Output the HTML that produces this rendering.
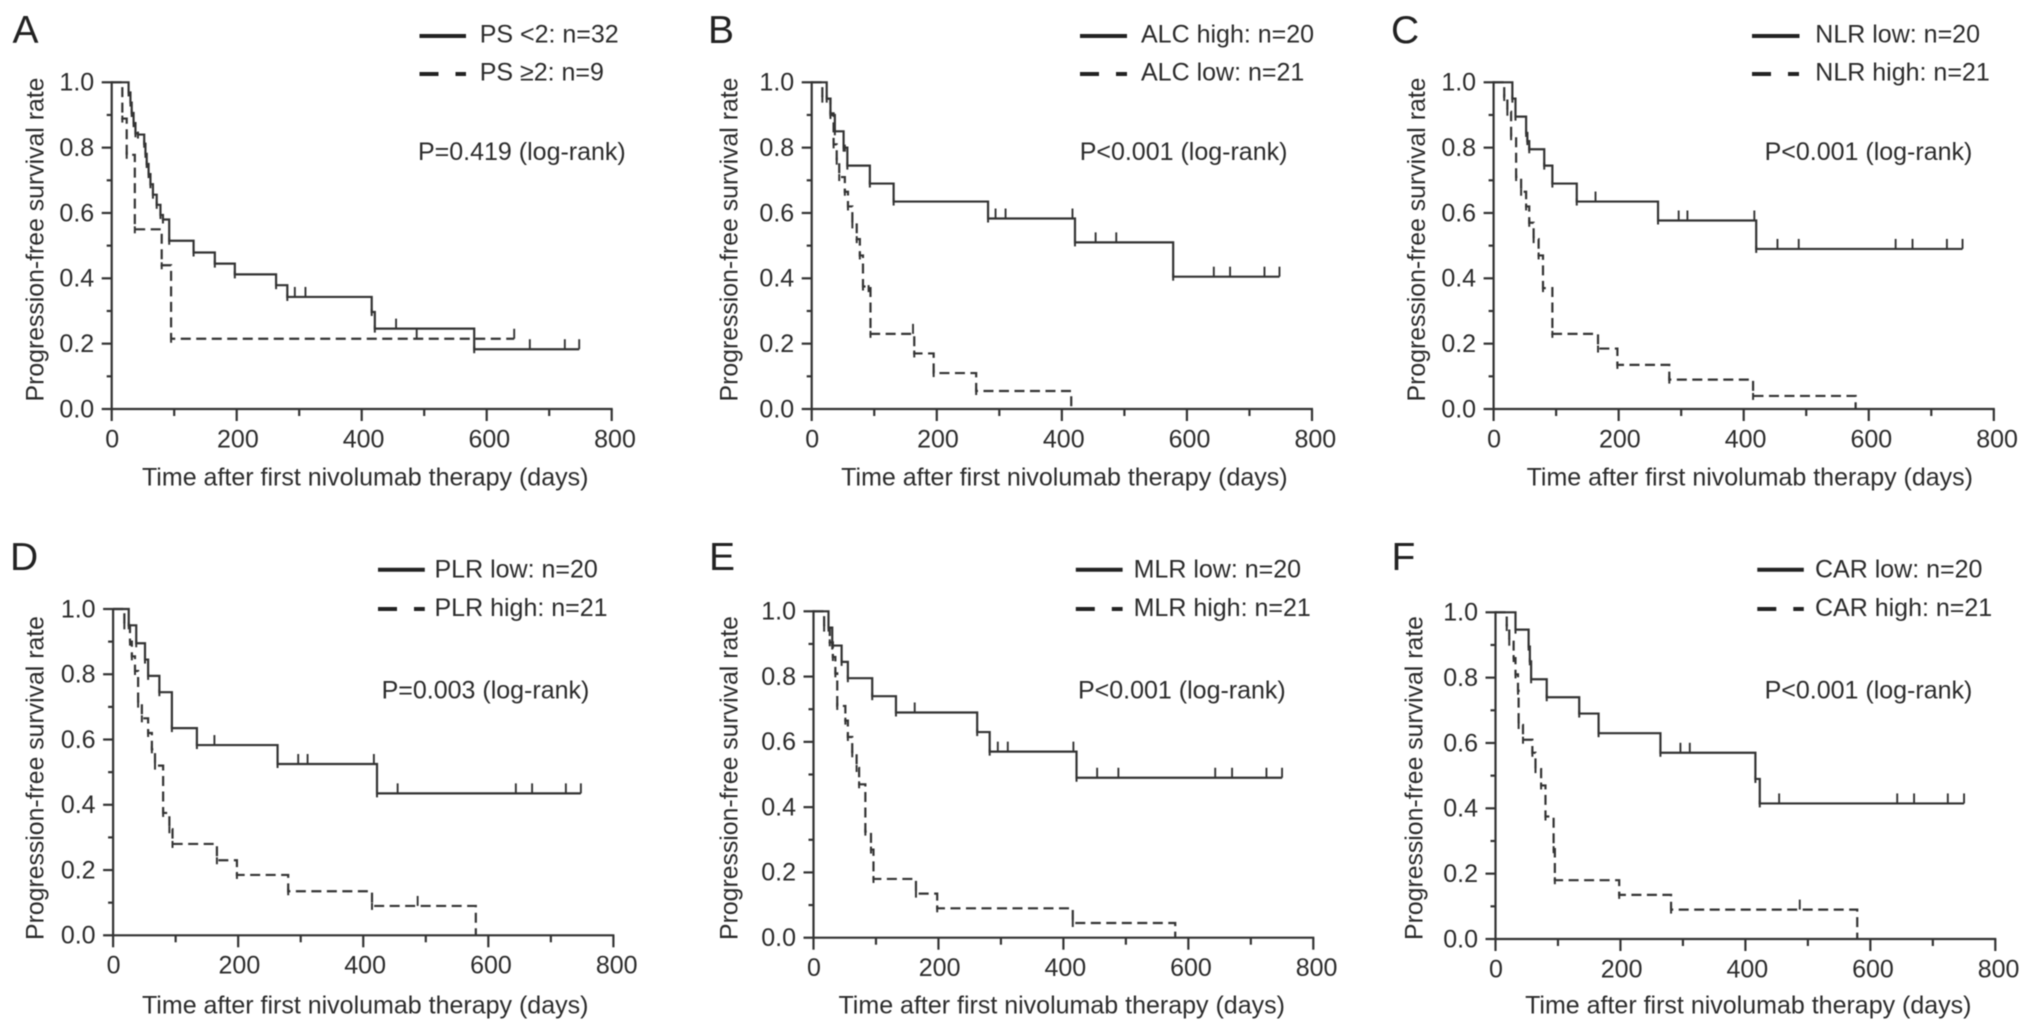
<!DOCTYPE html>
<html lang="en">
<head>
<meta charset="utf-8">
<title>Progression-free survival curves</title>
<style>
html,body{margin:0;padding:0;background:#fff;}
svg{display:block;}
#figure{filter:blur(.6px);}
text{font-family:"Liberation Sans",Arial,sans-serif;fill:#2b2b2b;font-size:25px;}
.ytitle{font-size:24.8px;}
.letter{font-size:39px;fill:#222;}
</style>
</head>
<body>
<svg id="chart" xmlns="http://www.w3.org/2000/svg" width="2032" height="1032" viewBox="0 0 2032 1032">
<g id="figure">
  <g id="panel-a">
    <text class="letter" x="12.5" y="43">A</text>
    <text x="365.2" y="485.7" text-anchor="middle">Time after first nivolumab therapy (days)</text>
    <text class="ytitle" transform="translate(43.3,239.5) rotate(-90)" text-anchor="middle">Progression-free survival rate</text>
    <line x1="419.5" x2="466" y1="36" y2="36" stroke="#222" stroke-width="4"/>
    <text x="479.7" y="42.7">PS &lt;2: n=32</text>
    <line x1="419.5" x2="466" y1="74" y2="74" stroke="#222" stroke-width="4" stroke-dasharray="19 17 11"/>
    <text x="479.7" y="80.7">PS ≥2: n=9</text>
    <text x="418" y="160">P=0.419 (log-rank)</text>
  </g>
  <g id="panel-b">
    <text class="letter" x="708" y="43">B</text>
    <text x="1064.4" y="485.7" text-anchor="middle">Time after first nivolumab therapy (days)</text>
    <text class="ytitle" transform="translate(737.7,239.5) rotate(-90)" text-anchor="middle">Progression-free survival rate</text>
    <line x1="1080" x2="1127" y1="36" y2="36" stroke="#222" stroke-width="4"/>
    <text x="1141" y="42.7">ALC high: n=20</text>
    <line x1="1080" x2="1127" y1="74" y2="74" stroke="#222" stroke-width="4" stroke-dasharray="19 17 11"/>
    <text x="1141" y="80.7">ALC low: n=21</text>
    <text x="1079.7" y="160">P&lt;0.001 (log-rank)</text>
  </g>
  <g id="panel-c">
    <text class="letter" x="1391" y="43">C</text>
    <text x="1749.8" y="485.7" text-anchor="middle">Time after first nivolumab therapy (days)</text>
    <text class="ytitle" transform="translate(1424.9,239.5) rotate(-90)" text-anchor="middle">Progression-free survival rate</text>
    <line x1="1752" x2="1799.5" y1="36" y2="36" stroke="#222" stroke-width="4"/>
    <text x="1815.3" y="42.7">NLR low: n=20</text>
    <line x1="1752" x2="1799.5" y1="74" y2="74" stroke="#222" stroke-width="4" stroke-dasharray="19 17 11"/>
    <text x="1815.3" y="80.7">NLR high: n=21</text>
    <text x="1764.6" y="160">P&lt;0.001 (log-rank)</text>
  </g>
  <g id="panel-d">
    <text class="letter" x="10" y="570">D</text>
    <text x="365.2" y="1013.5" text-anchor="middle">Time after first nivolumab therapy (days)</text>
    <text class="ytitle" transform="translate(43.3,778) rotate(-90)" text-anchor="middle">Progression-free survival rate</text>
    <line x1="378" x2="424.8" y1="569.7" y2="569.7" stroke="#222" stroke-width="4"/>
    <text x="434.5" y="577.7">PLR low: n=20</text>
    <line x1="378" x2="424.8" y1="609" y2="609" stroke="#222" stroke-width="4" stroke-dasharray="19 17 11"/>
    <text x="434.5" y="616">PLR high: n=21</text>
    <text x="381.6" y="698.7">P=0.003 (log-rank)</text>
  </g>
  <g id="panel-e">
    <text class="letter" x="709" y="570">E</text>
    <text x="1061.7" y="1013.5" text-anchor="middle">Time after first nivolumab therapy (days)</text>
    <text class="ytitle" transform="translate(737.7,778) rotate(-90)" text-anchor="middle">Progression-free survival rate</text>
    <line x1="1075.8" x2="1122.6" y1="569.7" y2="569.7" stroke="#222" stroke-width="4"/>
    <text x="1133.6" y="577.7">MLR low: n=20</text>
    <line x1="1075.8" x2="1122.6" y1="609" y2="609" stroke="#222" stroke-width="4" stroke-dasharray="19 17 11"/>
    <text x="1133.6" y="616">MLR high: n=21</text>
    <text x="1078" y="698.7">P&lt;0.001 (log-rank)</text>
  </g>
  <g id="panel-f">
    <text class="letter" x="1391.5" y="570">F</text>
    <text x="1748.3" y="1013.5" text-anchor="middle">Time after first nivolumab therapy (days)</text>
    <text class="ytitle" transform="translate(1422.7,778) rotate(-90)" text-anchor="middle">Progression-free survival rate</text>
    <line x1="1757.3" x2="1803.8" y1="569.7" y2="569.7" stroke="#222" stroke-width="4"/>
    <text x="1815" y="577.7">CAR low: n=20</text>
    <line x1="1757.3" x2="1803.8" y1="609" y2="609" stroke="#222" stroke-width="4" stroke-dasharray="19 17 11"/>
    <text x="1815" y="616">CAR high: n=21</text>
    <text x="1764.6" y="698.7">P&lt;0.001 (log-rank)</text>
  </g>
</g>
</svg>
<script>
// Axis labels
const xTickLabels = ['0', '200', '400', '600', '800'];
const yTickLabels = ['0.0', '0.2', '0.4', '0.6', '0.8', '1.0'];
const xMinorTicks = [100, 300, 500, 700];
const yMinorTicks = [0.1, 0.3, 0.5, 0.7, 0.9];

// Panel A
const aSolidDays = [27,30,32,35,38,42,52,54,56,59,62,66,72,78,82,92,131,165,197,263,281,416,421,580];
const aSolidRates = [.969,.938,.906,.875,.844,.84,.812,.781,.75,.719,.688,.656,.625,.594,.58,.515,.479,.445,.412,.379,.343,.297,.246,.183];
const aSolidCensored = [293,310,455,669,725,748];
const aDashedDays = [17,24,37,80,95];
const aDashedRates = [.889,.778,.55,.44,.215];
const aDashedCensored = [488,644];

// Panel B
const bSolidDays = [24,30,37,51,53,57,93,131,282,421,578];
const bSolidRates = [.95,.9,.85,.8,.8,.745,.69,.635,.583,.51,.405];
const bSolidCensored = [294,310,417,454,487,643,669,724,748];
const bDashedDays = [17,30,35,40,44,53,58,65,72,77,82,91,94,164,195,263,415];
const bDashedRates = [.95,.905,.81,.76,.71,.665,.62,.565,.52,.47,.375,.37,.23,.17,.11,.055,0];
const bDashedCensored = [162];

// Panel C
const cSolidDays = [30,35,52,54,57,81,94,133,263,420];
const cSolidRates = [.95,.895,.845,.82,.795,.745,.69,.635,.577,.49];
const cSolidCensored = [163,296,310,417,454,488,643,670,725,750];
const cDashedDays = [17,22,28,36,44,52,57,64,72,79,94,167,198,281,415,579];
const cDashedRates = [.955,.91,.835,.71,.665,.62,.57,.52,.47,.37,.23,.185,.135,.09,.04,0];
const cDashedCensored = [];

// Panel D
const dSolidDays = [25,37,51,56,74,94,134,263,422];
const dSolidRates = [.95,.895,.845,.795,.745,.635,.583,.525,.435];
const dSolidCensored = [162,296,311,417,455,644,670,724,748];
const dDashedDays = [18,27,30,35,40,46,56,62,67,80,90,95,166,198,280,414,580];
const dDashedRates = [.95,.9,.855,.81,.71,.665,.62,.57,.52,.375,.325,.28,.23,.185,.135,.09,0];
const dDashedCensored = [487];

// Panel E
const eSolidDays = [24,30,45,55,94,132,262,282,421];
const eSolidRates = [.95,.895,.845,.795,.74,.69,.63,.57,.49];
const eSolidCensored = [162,295,311,416,454,488,643,670,725,750];
const eDashedDays = [17,26,31,35,38,51,55,62,69,73,83,92,96,164,198,415,579];
const eDashedRates = [.95,.905,.86,.81,.71,.665,.615,.565,.52,.47,.325,.27,.18,.135,.09,.045,0];
const eDashedCensored = [];

// Panel F
const fSolidDays = [32,53,55,57,82,134,165,264,416,423];
const fSolidRates = [.947,.895,.85,.795,.74,.69,.63,.57,.49,.415];
const fSolidCensored = [165,296,311,454,643,670,724,750];
const fDashedDays = [18,22,29,32,36,37,44,59,64,73,80,93,95,198,281,579];
const fDashedRates = [.955,.91,.86,.81,.76,.655,.61,.57,.52,.47,.375,.275,.18,.135,.09,0];
const fDashedCensored = [487];

// Panel frame geometry (pixels), separate from the data above
const frames = {
  a: {left: 111.7,  right: 611.7,  top: 82.3,  bottom: 409},
  b: {left: 811.7,  right: 1312,   top: 82.3,  bottom: 409},
  c: {left: 1493.6, right: 1993.8, top: 82.3,  bottom: 409},
  d: {left: 113.1,  right: 613.4,  top: 609,   bottom: 935.3},
  e: {left: 813.5,  right: 1313.3, top: 611.3, bottom: 937.7},
  f: {left: 1495.5, right: 1995.3, top: 612.3, bottom: 939}
};
const panelSeries = {
  a: {solid: [aSolidDays, aSolidRates, aSolidCensored], dashed: [aDashedDays, aDashedRates, aDashedCensored]},
  b: {solid: [bSolidDays, bSolidRates, bSolidCensored], dashed: [bDashedDays, bDashedRates, bDashedCensored]},
  c: {solid: [cSolidDays, cSolidRates, cSolidCensored], dashed: [cDashedDays, cDashedRates, cDashedCensored]},
  d: {solid: [dSolidDays, dSolidRates, dSolidCensored], dashed: [dDashedDays, dDashedRates, dDashedCensored]},
  e: {solid: [eSolidDays, eSolidRates, eSolidCensored], dashed: [eDashedDays, eDashedRates, eDashedCensored]},
  f: {solid: [fSolidDays, fSolidRates, fSolidCensored], dashed: [fDashedDays, fDashedRates, fDashedCensored]}
};

const NS = 'http://www.w3.org/2000/svg';
const INK = '#333';

function make(tag, attrs, parent) {
  const el = document.createElementNS(NS, tag);
  for (const k in attrs) el.setAttribute(k, attrs[k]);
  parent.appendChild(el);
  return el;
}

function rateAt(days, rates, t) {
  let r = 1;
  for (let i = 0; i < days.length; i++) {
    if (days[i] <= t) r = rates[i];
  }
  return r;
}

function drawAxes(g, id, xPos, yPos) {
  const xAxis = make('line', {x1: xPos(0), x2: xPos(800) + 1, y1: yPos(0), y2: yPos(0), stroke: INK, 'stroke-width': 2.2}, g);
  
  
  const yAxis = make('line', {x1: xPos(0), x2: xPos(0), y1: yPos(1) - 1, y2: yPos(0), stroke: INK, 'stroke-width': 2.2}, g);
  
  

  xTickLabels.forEach(function (label) {
    const v = Number(label);
    const tick = make('line', {x1: xPos(v), x2: xPos(v), y1: yPos(0), y2: yPos(0) + 12, stroke: INK, 'stroke-width': 2.2}, g);
    
    
    const text = make('text', {x: xPos(v) + 0.5 + v * 0.0035, y: yPos(0) + 38.3, 'text-anchor': 'middle'}, g);
    text.textContent = label;
    
    
  });
  xMinorTicks.forEach(function (v) {
    const tick = make('line', {x1: xPos(v), x2: xPos(v), y1: yPos(0), y2: yPos(0) + 7, stroke: INK, 'stroke-width': 2.2}, g);
    
    
  });
  yTickLabels.forEach(function (label) {
    const v = Number(label);
    const tick = make('line', {x1: xPos(0) - 10, x2: xPos(0), y1: yPos(v), y2: yPos(v), stroke: INK, 'stroke-width': 2.2}, g);
    
    
    const text = make('text', {x: xPos(0) - 17.5, y: yPos(v) + 8.3, 'text-anchor': 'end'}, g);
    text.textContent = label;
    
    
  });
  yMinorTicks.forEach(function (v) {
    const tick = make('line', {x1: xPos(0) - 5, x2: xPos(0), y1: yPos(v), y2: yPos(v), stroke: INK, 'stroke-width': 2.2}, g);
    
    
  });
}

function drawSeries(g, id, kind, series, xPos, yPos) {
  const days = series[0], rates = series[1], censored = series[2];
  const end = Math.max(days[days.length - 1], censored.length ? censored[censored.length - 1] : 0);
  let d = 'M' + xPos(0) + ' ' + yPos(1);
  for (let i = 0; i < days.length; i++) {
    d += 'H' + xPos(days[i]) + 'V' + yPos(rates[i]);
  }
  d += 'H' + xPos(end);
  const line = make('path', {d: d, fill: 'none', stroke: INK, 'stroke-width': 2.2}, g);
  if (kind === 'dashed') line.setAttribute('stroke-dasharray', '10 5.5');
  
  

  for (let i = 0; i < days.length; i++) {
    if (rates[i] <= 0) continue;
    const hook = make('line', {x1: xPos(days[i]), x2: xPos(days[i]), y1: yPos(rates[i]) - 3, y2: yPos(rates[i]) + 4, stroke: INK, 'stroke-width': 2}, g);
    
    
  }
  censored.forEach(function (t) {
    const y = yPos(rateAt(days, rates, t));
    const mark = make('line', {x1: xPos(t), x2: xPos(t), y1: y, y2: y - 10, stroke: INK, 'stroke-width': 1.9}, g);
    
    
  });
}

Object.keys(frames).forEach(function (id) {
  const frame = frames[id];
  const xPos = function (t) { return frame.left + (t / 800) * (frame.right - frame.left); };
  const yPos = function (s) { return frame.bottom - s * (frame.bottom - frame.top); };
  const g = document.getElementById('panel-' + id);
  drawAxes(g, id, xPos, yPos);
  drawSeries(g, id, 'solid', panelSeries[id].solid, xPos, yPos);
  drawSeries(g, id, 'dashed', panelSeries[id].dashed, xPos, yPos);
});
</script>
</body>
</html>
